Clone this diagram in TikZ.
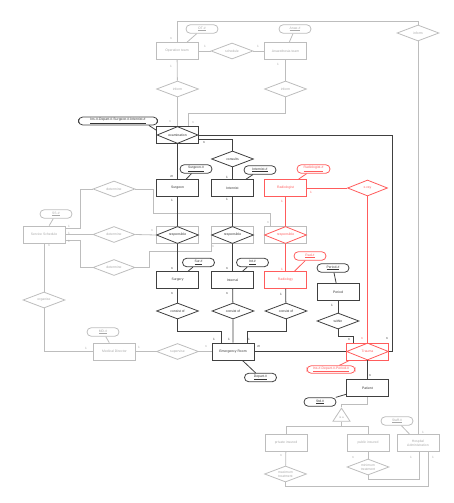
\documentclass[tikz,border=0pt]{standalone}
\usepackage{fontspec}
\setmainfont{Liberation Sans}
\usetikzlibrary{shapes.geometric,calc}
\definecolor{lg}{HTML}{BDBDBD}
\definecolor{lgt}{HTML}{A8A8A8}
\definecolor{dk}{HTML}{404040}
\definecolor{dkt}{HTML}{333333}
\definecolor{rd}{HTML}{FF5C5C}
\begin{document}
\begin{tikzpicture}[x=1pt,y=-1pt, font=\fontsize{3.4}{4}\selectfont, line width=0.8pt,
 ent/.style={rectangle,draw,minimum width=42pt,minimum height=17pt,inner sep=0pt},
 rel/.style={diamond,draw,minimum width=42pt,minimum height=16pt,inner sep=0pt,aspect=2.6},
 att/.style={rectangle,rounded corners=4.2pt,draw,minimum width=32pt,minimum height=8.5pt,inner sep=0.5pt},
 G/.style={draw=lg,text=lgt},
 D/.style={draw=dk,text=dkt},
 R/.style={draw=rd,text=rd},
 lab/.style={inner sep=0pt,font=\fontsize{3.2}{4}\selectfont}]
\useasboundingbox (0,0) rectangle (454,503);
% ---- top (gray)
\node[ent,G] (OT) at (177,51) {Operation team};
\node[att,G] (OTid) at (202,29) {\underline{OT-\#}};
\node[rel,G] (sched) at (232,51) {schedule};
\node[ent,G] (AT) at (285.5,51) {Anaesthesia team};
\node[att,G] (ATid) at (295,29) {\underline{Anae.\#}};
\node[rel,G] (inf1) at (177.5,89) {inform};
\node[rel,G] (inf2) at (285.5,89) {inform};
\node[rel,G] (inf3) at (418,33) {inform};
% ---- examination
\node[ent,D] (exam) at (177.5,135) {};
\node[rel,D,minimum width=41pt,minimum height=17pt] (examd) at (177.5,135) {examination};
\node[att,D,minimum width=79pt,minimum height=8pt] (examid) at (118,121) {\underline{Ins-\#-Depart-\#-Surgeon-\#-Internist-\#}};
% ---- staff
\node[ent,D] (Sgn) at (177.5,188) {Surgeon};
\node[att,D] (Sgnid) at (196,169) {\underline{Surgeon-\#}};
\node[rel,D] (cons) at (232.5,159) {consults};
\node[ent,D] (Int) at (232.5,188) {Internist};
\node[att,D] (Intid) at (260,170) {\underline{Internist-\#}};
\node[ent,R] (Rad) at (285.5,188) {Radiologist};
\node[att,R,minimum width=33pt] (Radid) at (313.5,169) {\underline{Radiologist-\#}};
\node[rel,R,minimum width=40pt] (xray) at (367.5,188) {x-ray};
% ---- responsible
\node[ent,G] (r1) at (177.5,235) {};
\node[rel,D,minimum height=17pt] (r1d) at (177.5,235) {responsible};
\node[ent,G] (r2) at (232.5,235) {};
\node[rel,D,minimum height=17pt] (r2d) at (232.5,235) {responsible};
\node[ent,G] (r3) at (285.5,235) {};
\node[rel,R,minimum height=17pt] (r3d) at (285.5,235) {responsible};
% ---- departments
\node[ent,D] (Sry) at (177.5,280) {Surgery};
\node[att,D] (Sryid) at (198.5,262.5) {\underline{Sur.\#}};
\node[ent,D] (Itl) at (232.5,280) {Internal};
\node[att,D] (Itlid) at (252.5,262.5) {\underline{Int.\#}};
\node[ent,R] (Rdl) at (285.5,280) {Radiology};
\node[att,R] (Rdlid) at (310,256) {\underline{Rad.\#}};
\node[ent,D] (Per) at (338,292) {Period};
\node[att,D] (Perid) at (333,268) {\underline{Period-\#}};
\node[rel,D] (c1) at (177.5,311) {consist of};
\node[rel,D] (c2) at (233,311) {consist of};
\node[rel,D] (c3) at (286,311) {consist of};
\node[rel,D] (wth) at (338,321) {within};
\node[ent,D] (ER) at (233,351.5) {Emergency Room};
\node[att,D] (ERid) at (260.5,377.5) {\underline{Depart-\#}};
\node[ent,R] (Tr) at (367.5,351.5) {};
\node[rel,R,minimum height=17pt] (Trd) at (367.5,351.5) {Trauma};
\node[att,R,minimum width=48pt,minimum height=7.5pt] (Trid) at (331,369.5) {\underline{Ins-\#-Depart-\#-Period-\#}};
\node[ent,D] (Pat) at (367.5,388) {Patient};
\node[att,D] (Patid) at (320,402) {\underline{Std.\#}};
% ---- left (gray)
\node[ent,G] (SS) at (44,234.5) {Service Schedule};
\node[att,G] (SSid) at (56,214) {\underline{SS-\#}};
\node[rel,G] (d1) at (114,189) {determine};
\node[rel,G] (d2) at (114,234.5) {determine};
\node[rel,G] (d3) at (114,267.5) {determine};
\node[rel,G] (org) at (44,300) {organise};
\node[ent,G] (MD) at (114.5,351.5) {Medical Director};
\node[att,G] (MDid) at (103,332) {\underline{MD-\#}};
\node[rel,G] (sup) at (177.5,351.5) {supervise};
% ---- bottom (gray)
\node[draw=lg,text=lgt,isosceles triangle,shape border rotate=90,isosceles triangle stretches,minimum height=13pt,minimum width=17pt,inner sep=0pt,font=\fontsize{3}{3.5}\selectfont] (isa) at (341.5,417.5) {is a};
\node[ent,G] (priv) at (286,443) {private insured};
\node[ent,G] (pub) at (368,443) {public insured};
\node[ent,G,align=center] (HA) at (418,443) {Hospital\\Administration};
\node[att,G] (HAid) at (397,421) {\underline{Staff-\#}};
\node[rel,G,align=center] (maxt) at (285.5,474) {maximum\\treatment};
\node[rel,G,align=center] (mint) at (368,467) {minimum\\treatment};
\coordinate (isab) at ($(isa.left corner)!0.5!(isa.right corner)$);
% ---- gray edges
\draw[lg] (OT.north) -- (OT.north |- 0,21) -| (inf3.north);
\draw[lg] (OTid) -- (OT);
\draw[lg] (ATid) -- (AT);
\draw[lg] (OT) -- (sched) -- (AT);
\draw[lg] (OT) -- (inf1);
\draw[lg] (AT) -- (inf2);
\draw[lg] (inf1.south) -- (exam.north);
\draw[lg] (inf2.south) -- (inf2.south |- 0,113) -| ([xshift=10.5pt]exam.north);
\draw[lg] (inf3) -- (HA);
\draw[lg] ([yshift=6.5pt]SS.east) -- ++(15,0) |- (d1.west);
\draw[lg] (d1.east) -| (153,213) -| ([xshift=-15.5pt]r3.north);
\draw[lg] (SS.east) -- (d2.west);
\draw[lg] (d2.east) -- (r1.west);
\draw[lg] ([yshift=-5.5pt]SS.east) -- ++(15,0) |- (d3.west);
\draw[lg] (d3.east) -| (149,251) -| ([xshift=-21.5pt]r2.south);
\draw[lg] (SSid) -- (SS);
\draw[lg] (SS) -- (org);
\draw[lg] (org.south) |- (MD.west);
\draw[lg] (MD) -- (sup) -- (ER);
\draw[lg] (MDid) -- (MD);
\draw[lg] (Pat.south) -- ++(0,7.5) -| (isa.apex);
\draw[lg] (isab) -- ++(0,5) coordinate (isaj);
\draw[lg] (priv.north) |- (isaj) -| (pub.north);
\draw[lg] (priv) -- (maxt);
\draw[lg] (pub) -- (mint);
\draw[lg] (maxt.south) -- ++(0,4) -| ([xshift=10pt]HA.south);
\draw[lg] (mint.south) -- ++(0,4) -| ([xshift=1pt]HA.south);
\draw[lg] (HAid) -- (HA);
% ---- dark edges
\draw[dk] ([xshift=-9pt]examid.south east) -- ([yshift=-4pt]exam.north west);
\draw[dk] (exam) -- (Sgn);
\draw[dk] ([yshift=-4pt]exam.east) -| (cons.north);
\draw[dk] (exam.east) -| ([xshift=3pt]Tr.east) -- (Tr.east);
\draw[dk] (cons) -- (Int);
\draw[dk] (Sgnid) -- (Sgn);
\draw[dk] (Intid) -- (Int);
\draw[dk] (Sgn) -- (r1) -- (Sry) -- (c1);
\draw[dk] (c1.south) -- ++(0,12) -| ([xshift=-12pt]ER.north);
\draw[dk] (Int) -- (r2) -- (Itl) -- (c2) -- (ER);
\draw[dk] (Sryid) -- (Sry);
\draw[dk] (Itlid) -- (Itl);
\draw[dk] (Rdl) -- (c3);
\draw[dk] (c3.south) -- ++(0,12) -| ([xshift=14pt]ER.north);
\draw[dk] (ER) -- (Tr);
\draw[dk] (ERid) -- (ER);
\draw[dk] (Per) -- (wth);
\draw[dk] (Perid) -- (Per);
\draw[dk] (wth.south) -- ++(0,7) -| ([xshift=-14.5pt]Tr.north);
\draw[dk] (Tr) -- (Pat);
\draw[dk] (Patid) -- (Pat);
% ---- red edges
\draw[rd] (Rad) -- (xray);
\draw[rd] (xray) -- (Tr);
\draw[rd] (Radid) -- (Rad);
\draw[rd] (Rad) -- (r3) -- (Rdl);
\draw[rd] (Rdlid) -- (Rdl);
\draw[rd] (Trid) -- (Tr);
% ---- labels
\foreach \x/\y/\t [count=\i] in {171/39/n,205/46/1,258/46/1,171/66/1,278/64/1,170/122/n,193/123/n,423/432/1,69/226/1,69/233/1,69/241/1,152/231/n,268/223/n,213/247/n,49/246/n,86/348/1,139/347/1,206/347/n,281/456/n,353/458/n,411/457/1,433/457/1}
  \node[lab,text=lgt] (lg\i) at (\x,\y) {\t};
\foreach \x/\y/\t [count=\i] in {172/177/m,227/177/1,204/143/n,172/200/1,227/199/1,172/269/n,227/269/n,172/294/n,227/294/n,281/294/1,214/339/1,229/339/1,249/339/1,259/347/m,332/305/1,349/340/n,387/339/n,370/376/n}
  \node[lab,text=dkt] (ld\i) at (\x,\y) {\t};
\foreach \x/\y/\t [count=\i] in {311/192/1,282/201/1,282/269/1,362/339/n}
  \node[lab,text=rd] (lr\i) at (\x,\y) {\t};
\end{tikzpicture}
\end{document}
